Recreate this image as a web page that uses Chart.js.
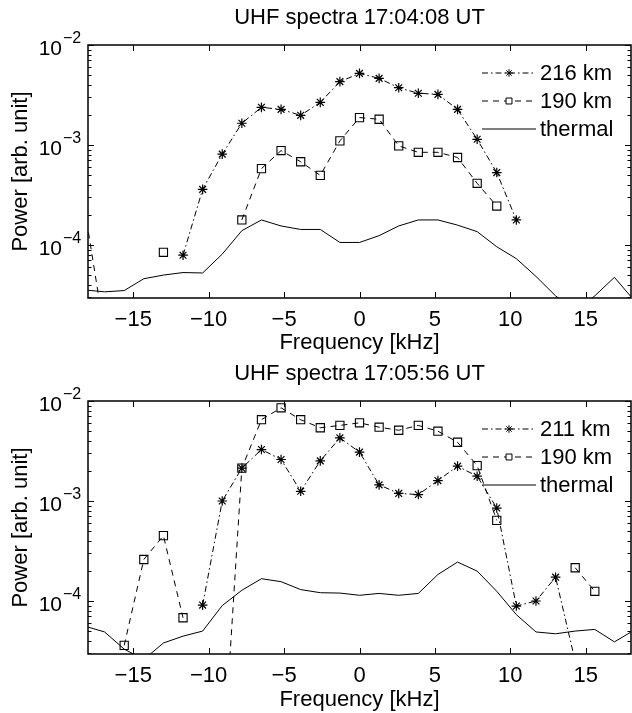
<!DOCTYPE html>
<html><head><meta charset="utf-8">
<script src="https://cdn.jsdelivr.net/npm/chart.js@4.4.0/dist/chart.umd.min.js"></script>
<style>
html,body{margin:0;padding:0;background:#fff;}
canvas{display:block;}
</style></head>
<body>
<div style="width:632px;height:356px;position:relative"><canvas id="c1" width="632" height="356"></canvas></div>
<div style="width:632px;height:357px;position:relative"><canvas id="c2" width="632" height="357"></canvas></div>
<script>
// ---- data ----
const freq = [-18.2,-16.9,-15.6,-14.3,-13.0,-11.7,-10.4,-9.1,-7.8,-6.5,-5.2,-3.9,-2.6,-1.3,0,1.3,2.6,3.9,5.2,6.5,7.8,9.1,10.4,11.7,13.0,14.3,15.6,16.9,18.2];
const xTickValues = [-15,-10,-5,0,5,10,15];
const yDecades = [1e-4,1e-3,1e-2];
const yDecadeExp = ['\u22124','\u22123','\u22122'];

const titleTop = 'UHF spectra 17:04:08 UT';
const titleBot = 'UHF spectra 17:05:56 UT';
const labelsTop = ['216 km','190 km','thermal'];
const labelsBot = ['211 km','190 km','thermal'];

const top216 = [null,null,null,null,null,7.9e-5,3.6e-4,8.1e-4,1.65e-3,2.38e-3,2.27e-3,1.98e-3,2.67e-3,4.3e-3,5.2e-3,4.64e-3,3.74e-3,3.29e-3,3.21e-3,2.27e-3,1.14e-3,5.3e-4,1.78e-4,null,null,null,null,null,null];
const top190 = [2.2e-4,1.3e-5,null,null,8.45e-5,null,null,null,1.78e-4,5.8e-4,8.8e-4,6.8e-4,4.97e-4,1.1e-3,1.88e-3,1.81e-3,9.8e-4,8.45e-4,8.45e-4,7.5e-4,4.14e-4,2.45e-4,null,null,null,null,null,null,null];
const topThermal = [3.55e-5,3.4e-5,3.5e-5,4.6e-5,5.0e-5,5.3e-5,5.25e-5,8.1e-5,1.39e-4,1.78e-4,1.55e-4,1.43e-4,1.43e-4,1.06e-4,1.06e-4,1.24e-4,1.55e-4,1.78e-4,1.78e-4,1.58e-4,1.36e-4,9.6e-5,7.3e-5,4.85e-5,3.1e-5,2.2e-5,3.1e-5,4.75e-5,2.8e-5];

const bot211 = [null,null,null,null,null,null,9.1e-5,1.0e-3,2.13e-3,3.27e-3,2.6e-3,1.25e-3,2.52e-3,4.28e-3,3.08e-3,1.45e-3,1.19e-3,1.16e-3,1.6e-3,2.23e-3,1.77e-3,8.5e-4,8.9e-5,1.0e-4,1.73e-4,2.5e-5,null,null,null];
const bot190 = [null,null,3.6e-5,2.6e-4,4.5e-4,6.8e-5,null,1.7e-6,2.13e-3,6.5e-3,8.55e-3,6.5e-3,5.4e-3,5.7e-3,6.05e-3,5.47e-3,5.1e-3,5.7e-3,4.99e-3,3.87e-3,2.26e-3,6.4e-4,null,null,null,2.15e-4,1.25e-4,null,null];
const botThermal = [5.6e-5,4.9e-5,3.3e-5,2.6e-5,3.8e-5,4.45e-5,5.0e-5,9.0e-5,1.28e-4,1.67e-4,1.56e-4,1.3e-4,1.21e-4,1.2e-4,1.14e-4,1.19e-4,1.14e-4,1.19e-4,1.84e-4,2.45e-4,1.99e-4,1.25e-4,7.3e-5,4.9e-5,4.7e-5,5.0e-5,5.2e-5,3.9e-5,5.1e-5];

// ---- styling ----
const FONT = '"Liberation Sans", Arial, Helvetica, sans-serif';
const DASHDOT = [6,3,1.5,3];
const DASHED = [6,5];

function pts(vals){ return freq.map((f,i)=>({x:f, y:vals[i]})); }
function rad(r){ return ctx => { const v = ctx.raw; return (v && Math.abs(v.x) > 18) ? 0 : r; }; }

function makeDatasets(labels, a, b, t){
  return [
    {label:labels[0], data:pts(a), borderColor:'#000', borderWidth:1, borderDash:DASHDOT,
     pointStyle:'star', pointRadius:rad(4.8), pointBorderColor:'#000', pointBackgroundColor:'rgba(0,0,0,0)', pointBorderWidth:1.2, tension:0, spanGaps:false},
    {label:labels[1], data:pts(b), borderColor:'#000', borderWidth:1, borderDash:DASHED,
     pointStyle:'rect', pointRadius:rad(5.8), pointBorderColor:'#000', pointBackgroundColor:'rgba(0,0,0,0)', pointBorderWidth:1.1, tension:0, spanGaps:false},
    {label:labels[2], data:pts(t), borderColor:'#000', borderWidth:1, pointRadius:0, tension:0}
  ];
}

const framePlugin = {
  id:'frame',
  afterDraw(chart){
    const {ctx, chartArea:a, scales:{x,y}} = chart;
    ctx.save();
    ctx.strokeStyle='#000';
    ctx.lineWidth=1;
    ctx.beginPath();
    xTickValues.forEach(v=>{
      const px=Math.round(x.getPixelForValue(v))+0.5;
      ctx.moveTo(px,a.bottom); ctx.lineTo(px,a.bottom-6);
      ctx.moveTo(px,a.top); ctx.lineTo(px,a.top+6);
    });
    for(let e=-5;e<=-2;e++){
      for(let m=1;m<=9;m++){
        const v=m*Math.pow(10,e);
        if(v<y.min*0.999||v>y.max*1.001) continue;
        const py=Math.round(y.getPixelForValue(v))+0.5;
        const L = m===1?6:3.5;
        ctx.moveTo(a.left,py); ctx.lineTo(a.left+L,py);
        ctx.moveTo(a.right,py); ctx.lineTo(a.right-L,py);
      }
    }
    ctx.stroke();
    ctx.lineWidth=1.5;
    ctx.strokeRect(a.left,a.top,a.right-a.left,a.bottom-a.top);
    // y tick labels 10^n
    ctx.fillStyle='#000';
    yDecades.forEach((v,i)=>{
      const py=y.getPixelForValue(v);
      ctx.textBaseline='alphabetic';
      ctx.font='21px '+FONT;
      ctx.textAlign='right';
      ctx.fillText('10', 62, py+10);
      ctx.font='16px '+FONT;
      ctx.textAlign='left';
      ctx.fillText(yDecadeExp[i], 63, py-2);
    });
    // legend
    const x0=482, x1=536, xm=509, tx=540;
    chart.data.datasets.forEach((ds,i)=>{
      const ly = a.top + 28 + i*28;
      ctx.lineWidth=1;
      ctx.setLineDash(ds.borderDash||[]);
      ctx.beginPath(); ctx.moveTo(x0,ly); ctx.lineTo(x1,ly); ctx.stroke();
      ctx.setLineDash([]);
      if(ds.pointStyle && i<2){
        ctx.fillStyle='#fff';
        Chart.helpers.drawPoint(ctx,{pointStyle:ds.pointStyle, radius: i===0?3.8:4.2, borderWidth:1, rotation:0}, xm, ly);
      }
      ctx.fillStyle='#000';
      ctx.font='22px '+FONT;
      ctx.textAlign='left';
      ctx.textBaseline='middle';
      ctx.fillText(ds.label, tx, ly+1);
    });
    ctx.restore();
  }
};

function makeChart(id, title, datasets, xAxisH){
  return new Chart(document.getElementById(id), {
    type:'line',
    data:{datasets},
    options:{
      responsive:false, animation:false, devicePixelRatio:1,
      layout:{padding:{left:0,right:1,top:0,bottom:0}},
      plugins:{
        legend:{display:false}, tooltip:{enabled:false},
        title:{display:true, fullSize:false, text:title, color:'#000', font:{family:FONT, size:22, weight:'normal'}, padding:{top:5,bottom:13.6}}
      },
      scales:{
        x:{type:'linear', min:-18, max:18, offset:false,
           grid:{display:false, drawTicks:false}, border:{display:false},
           afterBuildTicks:s=>{ s.ticks = xTickValues.map(v=>({value:v})); },
           afterFit:s=>{ s.height = xAxisH; },
           ticks:{color:'#000', font:{family:FONT,size:22}, padding:9, maxRotation:0,
                  callback:v=> v<0 ? '\u2212'+Math.abs(v) : String(v)},
           title:{display:true, text:'Frequency [kHz]', color:'#000', font:{family:FONT,size:22}, padding:{top:0,bottom:0}}
        },
        y:{type:'logarithmic', min:2.95e-5, max:1e-2,
           grid:{display:false, drawTicks:false}, border:{display:false},
           afterBuildTicks:s=>{ s.ticks = yDecades.map(v=>({value:v})); },
           afterFit:s=>{ s.width = 88; },
           ticks:{display:false},
           title:{display:true, text:'Power [arb. unit]', color:'#000', font:{family:FONT,size:22}, padding:{top:8,bottom:0}}
        }
      }
    },
    plugins:[framePlugin]
  });
}

makeChart('c1', titleTop, makeDatasets(labelsTop, top216, top190, topThermal), 58);
makeChart('c2', titleBot, makeDatasets(labelsBot, bot211, bot190, botThermal), 59);
</script>
</body></html>
